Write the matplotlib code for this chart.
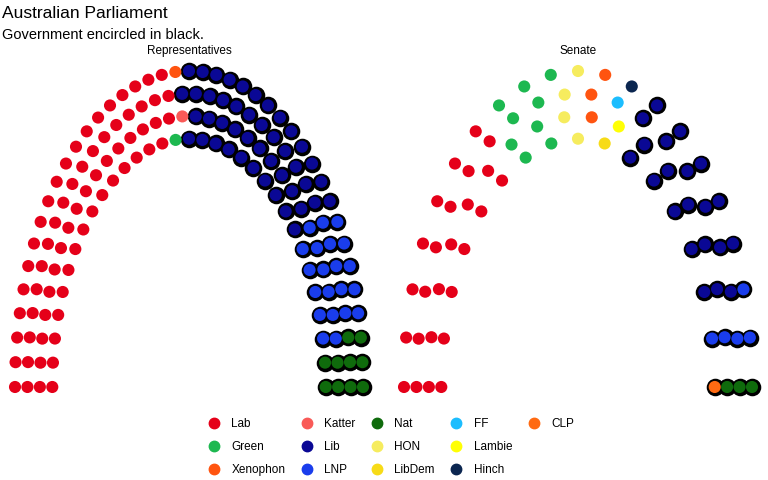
import numpy as np
import matplotlib
matplotlib.use("Agg")
import matplotlib.pyplot as plt
from matplotlib.lines import Line2D

plt.rcParams['font.family'] = ['Liberation Sans', 'DejaVu Sans']

# party order used for the legend (factor levels)
parties = ['Lab', 'Green', 'Xenophon', 'Katter', 'Lib', 'LNP', 'Nat',
           'HON', 'LibDem', 'FF', 'Lambie', 'Hinch', 'CLP']
colours = ['#E50019', '#1DB850', '#FF5410', '#F95A57', '#0A0895', '#1A3DEC', '#0F6B0C',
           '#F6EC5E', '#F7DB17', '#1CBDFE', '#FFFF05', '#0B2650', '#FF6A12']

# House of Representatives
house_parties = ['Lab', 'Green', 'Xenophon', 'Katter', 'Lib', 'LNP', 'Nat']
house_seats = [69, 1, 1, 1, 45, 21, 10]
house_govt = [0, 0, 0, 0, 1, 1, 1]

# Senate
senate_parties = ['Lab', 'Green', 'HON', 'Xenophon', 'LibDem', 'FF', 'Lambie',
                  'Hinch', 'Lib', 'LNP', 'Nat', 'CLP']
senate_seats = [26, 9, 4, 3, 1, 1, 1, 1, 21, 5, 3, 1]
senate_govt = [0, 0, 0, 0, 0, 0, 0, 0, 1, 1, 1, 1]

n_rows = 4
col_of = dict(zip(parties, colours))


def horseshoe(n, rows):
    # seats spread evenly on semicircular rows, then ordered left -> right
    radii = np.linspace(5.5, 7, rows)
    counts = np.round(n * radii / radii.sum()).astype(int)
    xs, ys, th, rw = [], [], [], []
    for i, (r, c) in enumerate(zip(radii, counts)):
        t = np.linspace(0, np.pi, c)
        xs.append(r * np.cos(t))
        ys.append(r * np.sin(t))
        th.append(t)
        rw.append(np.full(c, i))
    xs, ys = np.concatenate(xs), np.concatenate(ys)
    th, rw = np.concatenate(th), np.concatenate(rw)
    order = np.lexsort((-rw, -np.round(th, 9)))
    return xs[order], ys[order]


def draw_chamber(ax, names, seats, govt, label):
    x, y = horseshoe(sum(seats), n_rows)
    seat_party = np.repeat(names, seats)
    seat_govt = np.repeat(govt, seats).astype(bool)
    ax.scatter(x[seat_govt], y[seat_govt], s=160, c='black', linewidths=0, clip_on=False)
    ax.scatter(x, y, s=76, c=[col_of[p] for p in seat_party], linewidths=0, clip_on=False)
    ax.set_xlim(-7.443, 7.443)
    ax.set_ylim(-0.244, 7.288)
    ax.axis('off')
    ax.text(0.5, 1 - (54 - 58) / 340.0, label, transform=ax.transAxes,
            ha='center', va='baseline', fontsize=8.5)


W, H = 768, 480
fig = plt.figure(figsize=(7.68, 4.8), dpi=100)

ax1 = fig.add_axes([4 / W, 1 - 398 / H, 370 / W, 340 / H])
ax2 = fig.add_axes([393 / W, 1 - 398 / H, 370 / W, 340 / H])
draw_chamber(ax1, house_parties, house_seats, house_govt, 'Representatives')
draw_chamber(ax2, senate_parties, senate_seats, senate_govt, 'Senate')

fig.text(2 / W, 1 - 18.5 / H, 'Australian Parliament', fontsize=12.5, va='baseline')
fig.text(2 / W, 1 - 39 / H, 'Government encircled in black.', fontsize=10.5, va='baseline')

# legend: 3 rows filled column by column, last column padded with blanks
handles = [Line2D([], [], marker='o', linestyle='', color=c, markersize=7.5) for c in colours]
labels = list(parties)
blank = Line2D([], [], linestyle='', marker=None)
handles += [blank, blank]
labels += ['', '']
fig.legend(handles, labels, ncol=5, loc='upper center', bbox_to_anchor=(391 / W, 1 - 412 / H),
           frameon=False, fontsize=8.5, handlelength=1.0, handletextpad=1.0,
           columnspacing=1.3, labelspacing=0.95, borderpad=0)

fig.savefig('out.png', dpi=100)
